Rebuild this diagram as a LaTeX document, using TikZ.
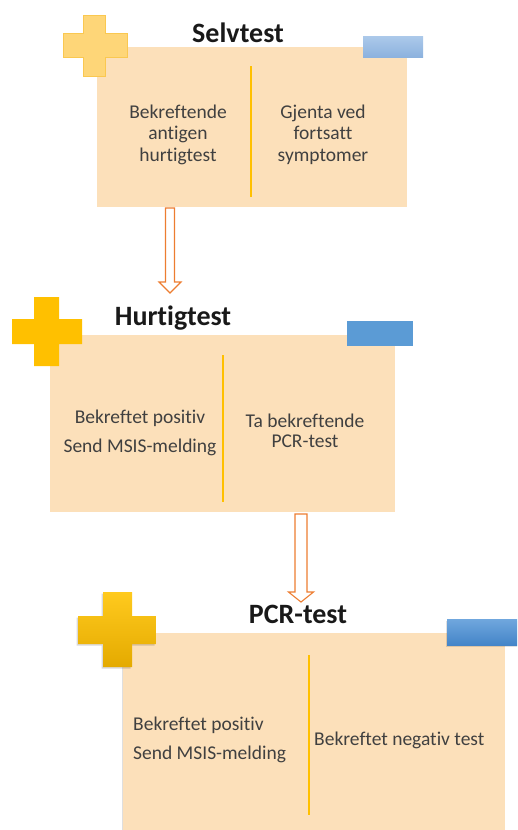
\documentclass[tikz,border=0pt]{standalone}
\usepackage{fontspec}
\setmainfont{Carlito}[Ligatures={NoCommon,NoRequired,NoContextual}]
\usetikzlibrary{calc,shadows}
\definecolor{boxfill}{RGB}{252,224,186}
\definecolor{divider}{RGB}{255,192,0}
\definecolor{arrowc}{RGB}{237,125,49}
\definecolor{crossA}{RGB}{254,214,120}
\definecolor{crossAb}{RGB}{250,200,80}
\definecolor{crossB}{RGB}{255,192,0}
\definecolor{crossCt}{RGB}{255,202,30}
\definecolor{crossCb}{RGB}{228,170,0}
\definecolor{blueAt}{RGB}{172,201,234}
\definecolor{blueAb}{RGB}{140,178,222}
\definecolor{blueB}{RGB}{91,155,213}
\definecolor{blueCt}{RGB}{112,167,222}
\definecolor{blueCb}{RGB}{68,133,200}
\definecolor{bodytext}{RGB}{64,64,64}
\newcommand\mycross[9]{% style, ox1, ox2, vx1, vx2, oy1, oy2, hy1, hy2
  \path[#1] (#4,#6) -- (#5,#6) -- (#5,#8) -- (#3,#8) -- (#3,#9) -- (#5,#9) -- (#5,#7) -- (#4,#7) -- (#4,#9) -- (#2,#9) -- (#2,#8) -- (#4,#8) -- cycle;}
\tikzset{
  panel/.style={rectangle, fill=boxfill, draw=none, inner sep=0pt, anchor=north west},
  title/.style={anchor=base, font=\fontsize{28}{32}\selectfont\bfseries, text=black!90, inner sep=0pt},
  body/.style={anchor=base, font=\fontsize{19.5}{23}\selectfont, text=bodytext, inner sep=0pt},
  divline/.style={draw=divider, line width=1.4pt},
  hollowarrow/.style n args={3}{draw=arrowc, fill=white, line width=1.1pt, line join=miter,
    to path={let \p1=(\tikztostart), \p2=(\tikztotarget) in
      (\x1-#1,\y1) -- (\x1-#1,\y2+#3) -- (\x1-#2,\y2+#3) -- (\x1,\y2) -- (\x1+#2,\y2+#3) -- (\x1+#1,\y2+#3) -- (\x1+#1,\y1) -- cycle}},
}
\begin{document}
\begin{tikzpicture}[x=1pt,y=-1pt]
\useasboundingbox (0,0) rectangle (517,830);
\clip (0,0) rectangle (517,830);
% panels
\node[panel, minimum width=310pt, minimum height=160pt] (b1) at (97,47) {};
\node[panel, minimum width=345pt, minimum height=177pt] (b2) at (50,335) {};
\node[panel, minimum width=382pt, minimum height=200pt, drop shadow={shadow xshift=-1.5pt, shadow yshift=-1pt, opacity=0.25}] (b3) at (123,633) {};
% decorations box 1
\mycross{fill=crossA, draw=crossAb, line width=0.8pt}{63}{127}{83}{105}{15}{76}{33}{57}
\path[top color=blueAt, bottom color=blueAb] (363,36) rectangle (423,57);
% decorations box 2
\mycross{fill=crossB}{12}{82}{34}{59}{297}{366}{319}{344}
\path[fill=blueB] (347,321) rectangle (413,346);
% decorations box 3
\mycross{fill=black, opacity=0.15, xshift=-1.5pt, yshift=-1.5pt}{78}{156}{103}{132}{592}{667}{616}{644}
\mycross{top color=crossCt, bottom color=crossCb}{78}{156}{103}{132}{592}{667}{616}{644}
\path[fill=black, opacity=0.12] (446,620.5) rectangle (520,647);
\path[top color=blueCt, bottom color=blueCb] (447,619) rectangle (520,645);
% titles
\node[title] (t1) at (238,42) {Selvtest};
\node[title] (t2) at (173,325) {Hurtigtest};
\node[title] (t3) at (298,623) {PCR-test};
% dividers
\coordinate (d1a) at (251,66); \coordinate (d1b) at (251,197);
\coordinate (d2a) at (223,355); \coordinate (d2b) at (223,502);
\coordinate (d3a) at (309,655); \coordinate (d3b) at (309,815);
\draw[divline] (d1a) -- (d1b);
\draw[divline] (d2a) -- (d2b);
\draw[divline] (d3a) -- (d3b);
% box 1 texts
\node[body] (s1) at (178,118) {Bekreftende};
\node[body] (s2) at (178,139.5) {antigen};
\node[body] (s3) at (178,161) {hurtigtest};
\node[body] (s4) at (323,118) {Gjenta ved};
\node[body] (s5) at (323,139.5) {fortsatt};
\node[body] (s6) at (323,161) {symptomer};
% box 2 texts
\node[body] (h1) at (140,423) {Bekreftet positiv};
\node[body] (h2) at (140,452) {Send MSIS-melding};
\node[body] (h3) at (305,427) {Ta bekreftende};
\node[body] (h4) at (305,447) {PCR-test};
% box 3 texts
\node[body, anchor=base west] (p1) at (133,730) {Bekreftet positiv};
\node[body, anchor=base west] (p2) at (133,759) {Send MSIS-melding};
\node[body, anchor=base west] (p3) at (314,745) {Bekreftet negativ test};
% arrows
\coordinate (a1s) at (170,208); \coordinate (a1e) at (170,293);
\coordinate (a2s) at (301,514); \coordinate (a2e) at (301,602);
\draw[hollowarrow={4.5pt}{11pt}{11pt}] (a1s) to (a1e);
\draw[hollowarrow={6pt}{12.5pt}{10pt}] (a2s) to (a2e);
\end{tikzpicture}
\end{document}
